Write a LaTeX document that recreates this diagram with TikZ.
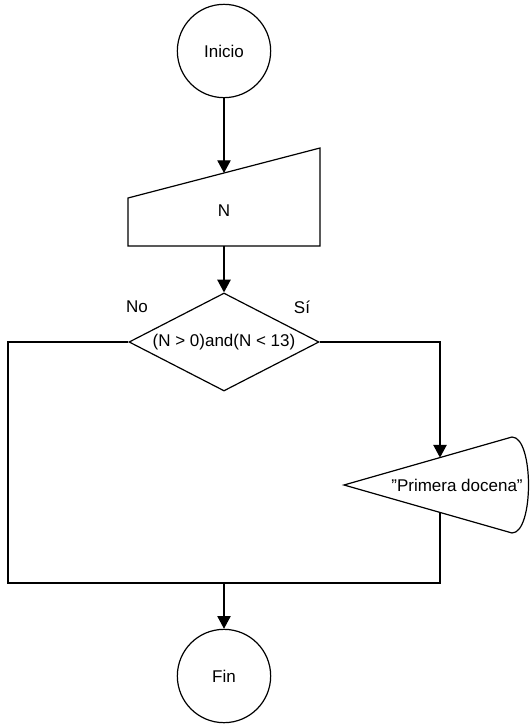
\documentclass[tikz,border=0pt]{standalone}
\usepackage{fontspec}
\setmainfont{Liberation Sans}
\usepackage{tikz}
\usetikzlibrary{shapes.geometric}
\usetikzlibrary{arrows.meta}

\tikzset{
  terminal/.style={draw, circle, minimum size=70pt, inner sep=0pt},
  decision/.style={draw, diamond, aspect=1.94, minimum width=142.5pt, minimum height=73.5pt, inner sep=0pt},
  flow/.style={-{Triangle[length=9.5pt,width=10pt]}},
}

\begin{document}
\begin{tikzpicture}[x=0.75pt,y=0.75pt,yscale=-1,xscale=1,line width=0.9pt,font=\fontsize{12.75}{15}\selectfont]
\useasboundingbox (0,0) rectangle (529,724);
\node (inicio) at (224,51) [terminal] {Inicio};
% entrada manual
\coordinate (mi-tl) at (128,198);
\coordinate (mi-tr) at (320,148);
\coordinate (mi-br) at (320,246);
\coordinate (mi-bl) at (128,246);
\coordinate (mi-in) at (224,173);
\coordinate (mi-out) at (224,246);
\draw (mi-tl) -- (mi-tr) -- (mi-br) -- (mi-bl) -- cycle;
\node (n) at (224,211) {N};
\draw [flow] (inicio) -- (mi-in);
% condicion
\node (cond) at (224,342) [decision] {(N > 0)and(N < 13)};
\draw [flow] (mi-out) -- (cond);
\node (no) at (137,307) {No};
\node (si) at (302,307) {Sí};
% salida por pantalla
\coordinate (d-apex) at (344,485);
\coordinate (d-top) at (512,437);
\coordinate (d-bot) at (512,533);
\draw (d-apex) -- (d-top) .. controls (534,437) and (534,533) .. (d-bot) -- cycle;
\node (msg) at (457,485) {\symbol{34}Primera docena\symbol{34}};
\coordinate (d-in) at (440,457.6);
\coordinate (d-out) at (440,512.4);
\draw [flow] (cond.east) -| (d-in);
% union
\coordinate (lt) at (8,342);
\coordinate (lb) at (8,583);
\coordinate (rb) at (440,583);
\coordinate (join) at (224,583);
\draw (cond.west) -- (lt) -- (lb) -- (rb) -- (d-out);
\node (fin) at (224,676) [terminal] {Fin};
\draw [flow] (join) -- (fin);
\end{tikzpicture}
\end{document}
